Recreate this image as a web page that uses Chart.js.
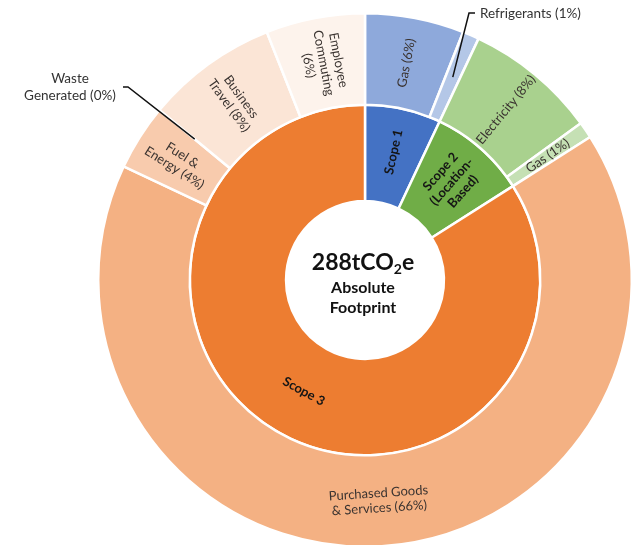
<!DOCTYPE html>
<html>
<head>
<meta charset="utf-8">
<script src="https://cdn.jsdelivr.net/npm/chart.js@4.4.1/dist/chart.umd.min.js"></script>
<style>
  html, body { margin: 0; padding: 0; background: #fff; overflow: hidden; }
  #wrap { position: absolute; left: 0; top: 0; width: 644px; height: 560px; }
</style>
</head>
<body>
<div id="wrap"><canvas id="chart-footprint"></canvas></div>
<script>
// ---------------- data ----------------
var scopeLabels = [["Scope 1"], ["Scope 2", "(Location-", "Based)"], ["Scope 3"]];
var scopeValues = [7, 9, 84];

var sourceLabels = [
    ["Gas (6%)"],
    ["Refrigerants (1%)"],
    ["Electricity (8%)"],
    ["Gas (1%)"],
    ["Purchased Goods", "& Services (66%)"],
    ["Fuel &", "Energy (4%)"],
    ["Waste", "Generated (0%)"],
    ["Business", "Travel (8%)"],
    ["Employee", "Commuting", "(6%)"]
];
var sourceValues = [6, 1, 8, 1, 66, 4, 0, 8, 6];

var totalLabel = "288tCO";
var totalSub = "2";
var totalTail = "e";
var totalCaption = ["Absolute", "Footprint"];

// ---------------- styles ----------------
var scopeColors = ["#4472C4", "#70AD47", "#ED7D31"];
var sourceColors = ["#8EA9DB", "#B4C7E7", "#A9D18E", "#C5E0B4", "#F4B183", "#F8CBAD", "#F8CBAD", "#FBE5D6", "#FDF3EC"];
// slices too small to hold their label get a leader line instead
var leaderSlices = {
    1: { dx: 104, dy: -267, tail: 6, align: "left" },
    6: { dx: -237, dy: -193, tail: -5, align: "center", textDx: -58 }
};
var FONT = "Lato, 'Noto Sans', sans-serif";

function drawLines(ctx, lines, lineH) {
    var n = lines.length;
    for (var i = 0; i < n; i++) {
        ctx.fillText(lines[i], 0, (i - (n - 1) / 2) * lineH);
    }
}

var sliceLabels = {
    id: 'sliceLabels',
    afterDatasetsDraw: function (chart) {
        var ctx = chart.ctx;
        ctx.save();
        ctx.textAlign = "center";
        ctx.textBaseline = "middle";

        chart.data.datasets.forEach(function (ds, di) {
            var meta = chart.getDatasetMeta(di);
            var total = ds.data.reduce(function (a, b) { return a + b; }, 0);
            meta.data.forEach(function (arc, i) {
                if (leaderSlices[i] !== undefined && di === 0) return;
                var p = arc.getProps(['x', 'y', 'startAngle', 'endAngle', 'innerRadius', 'outerRadius'], true);
                var a = (p.startAngle + p.endAngle) / 2;
                var r = (p.innerRadius + p.outerRadius) / 2;
                if (di === 1 && i < 2) r += 4;
                var x = p.x + Math.cos(a) * r;
                var y = p.y + Math.sin(a) * r;
                var rot;
                if (ds.data[i] / total > 0.3) {
                    rot = a + Math.PI / 2;
                } else {
                    rot = a;
                }
                if (Math.cos(rot) < 0) rot += Math.PI;
                ctx.save();
                ctx.translate(x, y);
                ctx.rotate(rot);
                if (di === 1) {
                    ctx.font = "bold 13px " + FONT;
                    ctx.fillStyle = "#151515";
                    drawLines(ctx, ds.labelLines[i], 15);
                } else {
                    ctx.font = "13px " + FONT;
                    ctx.fillStyle = "#3a3330";
                    drawLines(ctx, ds.labelLines[i], 15);
                }
                ctx.restore();
            });
        });

        // leader lines for the tiny slices
        var meta0 = chart.getDatasetMeta(0);
        Object.keys(leaderSlices).forEach(function (k) {
            var i = +k;
            var cfg = leaderSlices[i];
            var p = meta0.data[i].getProps(['x', 'y', 'startAngle', 'endAngle', 'innerRadius', 'outerRadius'], true);
            var a = (p.startAngle + p.endAngle) / 2;
            var r = (p.innerRadius + p.outerRadius) / 2;
            var ax = p.x + Math.cos(a) * r, ay = p.y + Math.sin(a) * r;
            var ex = p.x + cfg.dx, ey = p.y + cfg.dy;
            ctx.strokeStyle = "#111";
            ctx.lineWidth = 1.5;
            ctx.beginPath();
            ctx.moveTo(ax, ay);
            ctx.lineTo(ex, ey);
            ctx.lineTo(ex + cfg.tail, ey);
            ctx.stroke();
            ctx.font = "13.5px " + FONT;
            ctx.fillStyle = "#333";
            var lines = chart.data.datasets[0].labelLines[i];
            if (cfg.align === "left") {
                ctx.textAlign = "left";
                ctx.fillText(lines[0], ex + cfg.tail + 5, ey + 1);
            } else {
                ctx.textAlign = "center";
                ctx.save();
                ctx.translate(ex + cfg.textDx, ey);
                drawLines(ctx, lines, 17);
                ctx.restore();
            }
        });

        // centre text
        var c = meta0.data[0];
        var cx = c.x, cy = c.y;
        ctx.fillStyle = "#111";
        ctx.textAlign = "left";
        ctx.font = "bold 23px " + FONT;
        var w1 = ctx.measureText(totalLabel).width;
        var w3 = ctx.measureText(totalTail).width;
        ctx.font = "bold 14px " + FONT;
        var w2 = ctx.measureText(totalSub).width;
        var sx = cx - (w1 + w2 + w3) / 2 - 2;
        ctx.font = "bold 23px " + FONT;
        ctx.fillText(totalLabel, sx, cy - 17);
        ctx.font = "bold 14px " + FONT;
        ctx.fillText(totalSub, sx + w1, cy - 11);
        ctx.font = "bold 23px " + FONT;
        ctx.fillText(totalTail, sx + w1 + w2, cy - 17);
        ctx.textAlign = "center";
        ctx.font = "bold 16px " + FONT;
        ctx.fillText(totalCaption[0], cx - 2, cy + 8);
        ctx.fillText(totalCaption[1], cx - 2, cy + 28);
        ctx.restore();
    }
};

var footprint = document.getElementById('chart-footprint').getContext('2d');
var chart_footprint = new Chart(footprint, {
    type: 'doughnut',
    data: {
        labels: sourceLabels.map(function (l) { return l.join(" "); }),
        datasets: [{
            data: sourceValues,
            labelLines: sourceLabels,
            backgroundColor: sourceColors,
            borderColor: '#ffffff',
            borderWidth: 2.5,
            weight: 0.95
        }, {
            data: scopeValues,
            labelLines: scopeLabels,
            backgroundColor: scopeColors,
            borderColor: '#ffffff',
            borderWidth: 2.5,
            weight: 1
        }]
    },
    options: {
        responsive: true,
        maintainAspectRatio: false,
        animation: false,
        cutout: '29.6%',
        layout: {
            padding: { left: 97, top: 12, right: 11, bottom: 12 }
        },
        plugins: {
            legend: { display: false },
            tooltip: { enabled: false }
        }
    },
    plugins: [sliceLabels]
});
</script>
</body>
</html>
